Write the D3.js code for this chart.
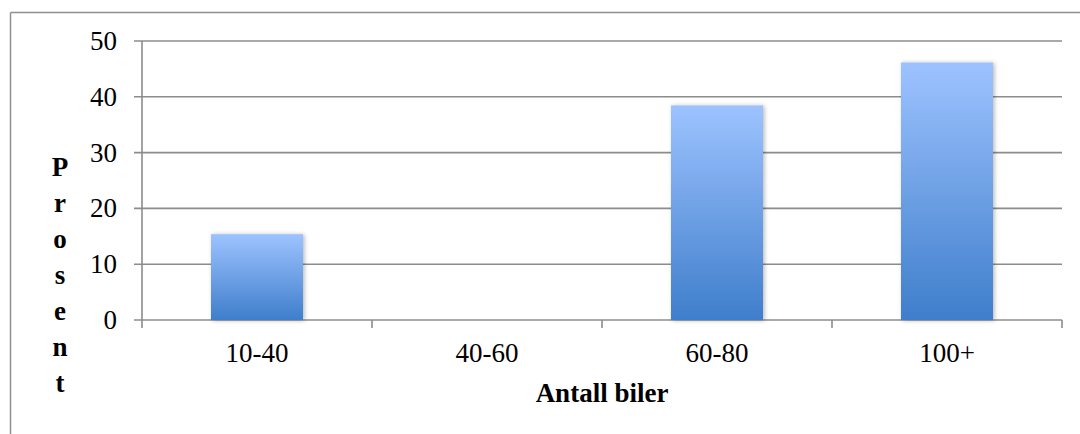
<!DOCTYPE html>
<html>
<head>
<meta charset="utf-8">
<script src="https://cdn.jsdelivr.net/npm/d3@7"></script>
<style>
  html, body { margin: 0; padding: 0; background: #fff; }
  svg { display: block; }
</style>
</head>
<body>
<svg id="chart" width="1080" height="434"></svg>
<script>
// Share of respondents (percent) by number of cars
const categories = ["10-40", "40-60", "60-80", "100+"];
const values = [15.38, 0, 38.46, 46.15];
const yTicks = [0, 10, 20, 30, 40, 50];
const yTitle = "Prosent";
const xTitle = "Antall biler";

const svg = d3.select("#chart");
const W = 1080, H = 434;
const plot = { left: 142, right: 1062, top: 41, bottom: 320 };
const gridColor = "#8c8c8c";
const font = "'Liberation Serif', 'Times New Roman', serif";

const x = d3.scaleBand().domain(categories).range([plot.left, plot.right]).paddingInner(0.6).paddingOuter(0.3);
const xEdges = d3.scaleLinear().domain([0, categories.length]).range([plot.left, plot.right]);
const y = d3.scaleLinear().domain([0, 50]).range([plot.bottom, plot.top]);

const defs = svg.append("defs");
const grad = defs.append("linearGradient").attr("id", "barFill")
  .attr("x1", 0).attr("y1", 0).attr("x2", 0).attr("y2", 1);
grad.append("stop").attr("offset", "0%").attr("stop-color", "#9dc3ff");
grad.append("stop").attr("offset", "100%").attr("stop-color", "#3f7ecb");
const shadow = defs.append("filter").attr("id", "barShadow")
  .attr("x", "-20%").attr("y", "-10%").attr("width", "140%").attr("height", "120%");
shadow.append("feDropShadow").attr("dx", 1.5).attr("dy", 0.5).attr("stdDeviation", 2)
  .attr("flood-color", "#000").attr("flood-opacity", 0.28);

// outer chart frame (top and left edges visible)
svg.append("line").attr("x1", 10.5).attr("x2", W).attr("y1", 12.5).attr("y2", 12.5)
  .attr("stroke", "#8f8f8f").attr("stroke-width", 1.5);
svg.append("line").attr("x1", 10.5).attr("x2", 10.5).attr("y1", 12.5).attr("y2", H)
  .attr("stroke", "#8f8f8f").attr("stroke-width", 1.5);

// horizontal gridlines with left tick stubs
svg.append("g").selectAll("line").data(yTicks).join("line")
  .attr("x1", plot.left - 8).attr("x2", plot.right)
  .attr("y1", d => y(d)).attr("y2", d => y(d))
  .attr("stroke", gridColor).attr("stroke-width", 1.6);

// y axis line
svg.append("line").attr("x1", plot.left).attr("x2", plot.left)
  .attr("y1", plot.top).attr("y2", plot.bottom + 8)
  .attr("stroke", gridColor).attr("stroke-width", 1.6);

// category boundary ticks
svg.append("g").selectAll("line").data(d3.range(1, categories.length + 1)).join("line")
  .attr("x1", d => xEdges(d)).attr("x2", d => xEdges(d))
  .attr("y1", plot.bottom).attr("y2", plot.bottom + 8)
  .attr("stroke", gridColor).attr("stroke-width", 1.6);

// y tick labels
svg.append("g").selectAll("text").data(yTicks).join("text")
  .attr("x", 117).attr("y", d => y(d) + 9)
  .attr("text-anchor", "end")
  .attr("font-family", font).attr("font-size", 27).attr("fill", "#000")
  .text(d => d);

// bars
svg.append("g").selectAll("rect").data(categories.map((c, i) => ({ c, v: values[i] })).filter(d => d.v > 0)).join("rect")
  .attr("x", d => x(d.c)).attr("width", x.bandwidth())
  .attr("y", d => y(d.v)).attr("height", d => y(0) - y(d.v))
  .attr("fill", "url(#barFill)").attr("filter", "url(#barShadow)");

// category labels
svg.append("g").selectAll("text").data(categories).join("text")
  .attr("x", d => x(d) + x.bandwidth() / 2).attr("y", 362)
  .attr("text-anchor", "middle")
  .attr("font-family", font).attr("font-size", 27).attr("fill", "#000")
  .text(d => d);

// x axis title
svg.append("text").attr("x", (plot.left + plot.right) / 2).attr("y", 402)
  .attr("text-anchor", "middle")
  .attr("font-family", font).attr("font-size", 27).attr("font-weight", "bold").attr("fill", "#000")
  .text(xTitle);

// y axis title, letters stacked vertically
const yTitleText = svg.append("text")
  .attr("text-anchor", "middle")
  .attr("font-family", font).attr("font-size", 27).attr("font-weight", "bold").attr("fill", "#000");
yTitleText.selectAll("tspan").data(yTitle.split("")).join("tspan")
  .attr("x", 60).attr("y", (d, i) => 176 + i * 36)
  .text(d => d);
</script>
</body>
</html>
